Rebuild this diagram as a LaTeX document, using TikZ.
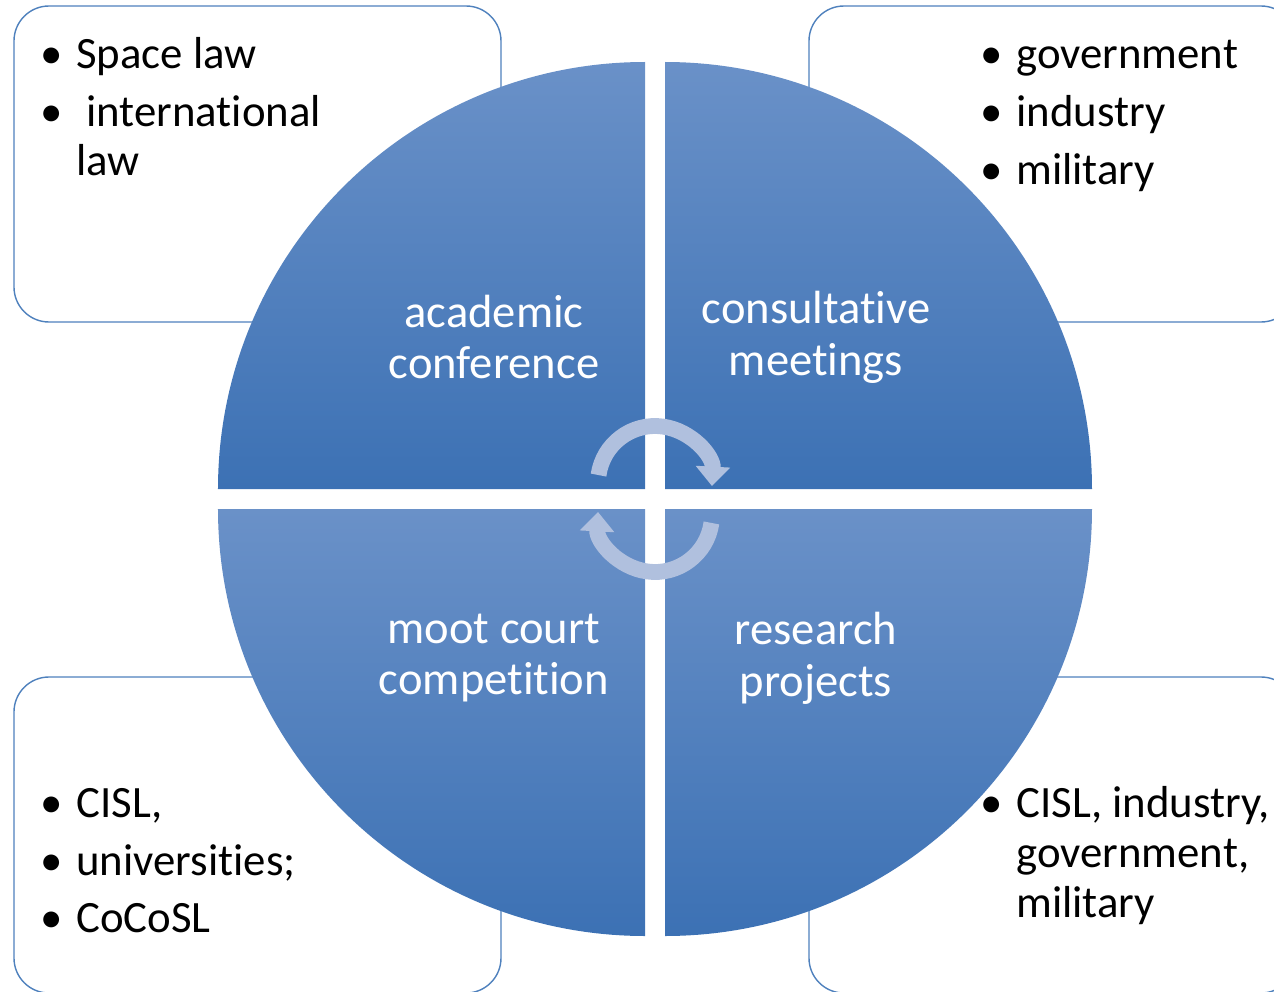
\documentclass[tikz,border=0pt]{standalone}
\usepackage{fontspec}
\setmainfont{Carlito}[Ligatures={NoCommon}]
\usetikzlibrary{arrows.meta}

\definecolor{boxline}{RGB}{79,129,189}
\definecolor{quadtop}{RGB}{106,145,200}
\definecolor{quadbot}{RGB}{60,113,180}
\definecolor{cyclearrow}{RGB}{176,192,222}

\tikzset{
  infobox/.style={draw=boxline, fill=white, line width=0.8pt, rounded corners=0.7cm},
  quadrant/.style={top color=quadtop, bottom color=quadbot},
  quadlabel/.style={text=white, align=center, inner sep=0pt, font=\fontsize{26.5}{29.5}\selectfont},
  bulletlist/.style={anchor=north west, align=left, inner sep=0pt, font=\fontsize{25.5}{28.35}\selectfont},
  cyclearc/.style={draw=cyclearrow, line width=9pt, -{Triangle[width=19pt,length=11pt]}}
}
\newcommand{\bul}{\makebox[0.72cm][l]{\textbullet}}

\begin{document}
\begin{tikzpicture}[x=0.02cm,y=0.02cm]
\path[use as bounding box] (-655,-492) rectangle (619,499);
\clip (-655,-492) rectangle (619,499);

% boxes behind the disc
\draw[infobox] (-641,177) rectangle (-154,493);
\draw[infobox] (154,177) rectangle (641,493);
\draw[infobox] (-641,-494) rectangle (-154,-178);
\draw[infobox] (154,-494) rectangle (641,-178);

\shade[quadrant] (-10,10) -- (-437,10) arc (180:90:427) -- cycle;
\shade[quadrant] (10,10) -- (10,437) arc (90:0:427) -- cycle;
\shade[quadrant] (-10,-10) -- (-437,-10) arc (180:270:427) -- cycle;
\shade[quadrant] (10,-10) -- (10,-437) arc (270:360:427) -- cycle;

\coordinate (cyctop) at (0,16);
\coordinate (cycbot) at (0,-16);
\draw[cyclearc] ([shift={(172:57)}]cyctop) arc (172:-3:57);
\draw[cyclearc] ([shift={(-8:57)}]cycbot) arc (-8:-183:57);

\node[quadlabel] (academic) at (-161,162) {academic\\conference};
\node[quadlabel] (consult) at (161,162) {consultative\\meetings};
\node[quadlabel] (moot) at (-161,-159) {moot court\\competition};
\node[quadlabel] (research) at (161,-159) {research\\projects};

\node[bulletlist] (lawlist) at (-615,462) {\bul Space law\\[4.5pt]\bul\ international\\\hspace*{0.72cm}law};
\node[bulletlist] (meetlist) at (325,459) {\bul government\\[4.5pt]\bul industry\\[4.5pt]\bul military};
\node[bulletlist] (mootlist) at (-615,-289) {\bul CISL,\\[4.5pt]\bul universities;\\[4.5pt]\bul CoCoSL};
\node[bulletlist] (reslist) at (325,-287) {\bul CISL, industry,\\\hspace*{0.72cm}government,\\\hspace*{0.72cm}military};
\end{tikzpicture}
\end{document}
